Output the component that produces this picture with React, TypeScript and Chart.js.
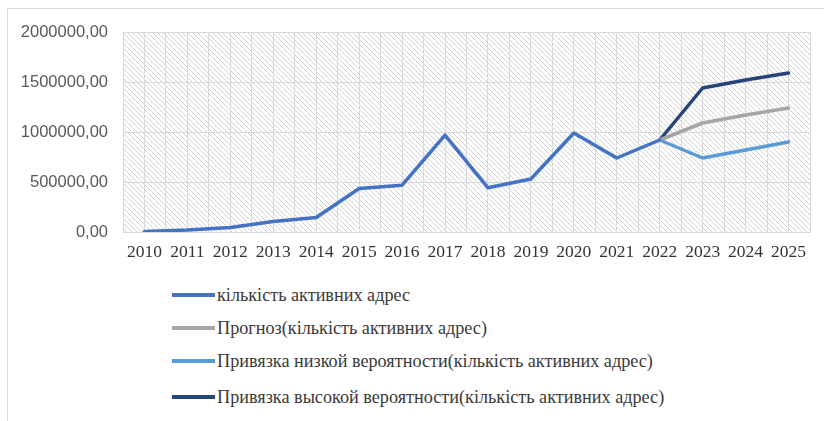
import React, { useEffect, useRef } from "react";
import { Chart, registerables } from "chart.js";

Chart.register(...registerables);

const years = [2010, 2011, 2012, 2013, 2014, 2015, 2016, 2017, 2018, 2019, 2020, 2021, 2022, 2023, 2024, 2025];
const activeAddresses = [5000, 20000, 45000, 105000, 145000, 435000, 468000, 968000, 442000, 530000, 990000, 740000, 920000, null, null, null];
const forecastValues = [null, null, null, null, null, null, null, null, null, null, null, null, 920000, 1090000, 1170000, 1240000];
const lowBoundValues = [null, null, null, null, null, null, null, null, null, null, null, null, 920000, 740000, 820000, 900000];
const highBoundValues = [null, null, null, null, null, null, null, null, null, null, null, null, 920000, 1440000, 1520000, 1590000];
const seriesNames = [
  "кількість активних адрес",
  "Прогноз(кількість активних адрес)",
  "Привязка низкой вероятности(кількість активних адрес)",
  "Привязка высокой вероятности(кількість активних адрес)",
];
const seriesColors = ["#4472c4", "#a5a5a5", "#5b9bd5", "#264478"];
const yMin = 0;
const yMax = 2000000;
const yStep = 500000;

const seriesValues = [activeAddresses, forecastValues, lowBoundValues, highBoundValues];

const hatchPlugin = {
  id: "hatchBg",
  beforeDraw(chart: any) {
    const { ctx, chartArea } = chart;
    if (!chartArea) return;
    const tile = document.createElement("canvas");
    const s = 5;
    tile.width = s;
    tile.height = s;
    const t = tile.getContext("2d")!;
    t.fillStyle = "#ffffff";
    t.fillRect(0, 0, s, s);
    t.strokeStyle = "#d2d2d2";
    t.lineWidth = 1;
    t.beginPath();
    t.moveTo(-1, -1);
    t.lineTo(s + 1, s + 1);
    t.moveTo(-1, s - 1);
    t.lineTo(1, s + 1);
    t.moveTo(s - 1, -1);
    t.lineTo(s + 1, 1);
    t.stroke();
    const pattern = ctx.createPattern(tile, "repeat");
    ctx.save();
    ctx.fillStyle = pattern;
    ctx.fillRect(chartArea.left, chartArea.top, chartArea.right - chartArea.left, chartArea.bottom - chartArea.top);
    ctx.restore();
  },
};

export default function App() {
  const canvasRef = useRef<HTMLCanvasElement | null>(null);

  useEffect(() => {
    if (!canvasRef.current) return;
    const chart = new Chart(canvasRef.current, {
      type: "line",
      data: {
        datasets: seriesValues.map((vals, i) => ({
          label: seriesNames[i],
          data: years.map((y, j) => ({ x: y, y: vals[j] })),
          borderColor: seriesColors[i],
          backgroundColor: seriesColors[i],
          borderWidth: 3.5,
          pointRadius: 0,
          tension: 0,
          spanGaps: false,
          borderJoinStyle: "round" as const,
          borderCapStyle: "round" as const,
        })),
      },
      options: {
        animation: false,
        responsive: false,
        maintainAspectRatio: false,
        layout: { padding: { left: 0, right: 14, top: 32, bottom: 0 } },
        plugins: {
          legend: { display: false },
          tooltip: { enabled: false },
        },
        scales: {
          x: {
            type: "linear",
            min: years[0] - 0.5,
            max: years[years.length - 1] + 0.5,
            afterFit: (s: any) => {
              s.height = 48;
            },
            afterBuildTicks: (s: any) => {
              const t: any[] = [];
              for (let v = years[0] - 0.5; v <= years[years.length - 1] + 0.5; v += 0.5) t.push({ value: v });
              s.ticks = t;
            },
            ticks: {
              autoSkip: false,
              maxRotation: 0,
              padding: 10,
              color: "#333333",
              font: { family: "'Liberation Serif'", size: 17.5 },
              callback: (v: any) => (Number.isInteger(v) ? String(v) : ""),
            },
            grid: { color: "#d9d9d9", lineWidth: 1, drawTicks: false },
            border: { display: true, color: "#d9d9d9" },
          },
          y: {
            min: yMin,
            max: yMax,
            afterFit: (s: any) => {
              s.width = 123;
            },
            ticks: {
              stepSize: yStep,
              padding: 15,
              color: "#595959",
              font: { family: "'Liberation Sans'", size: 16.5 },
              callback: (v: any) => Number(v).toFixed(2).replace(".", ","),
            },
            grid: { color: "#d9d9d9", lineWidth: 1, drawTicks: false },
            border: { display: false },
          },
        },
      },
      plugins: [hatchPlugin],
    });
    return () => chart.destroy();
  }, []);

  const legendTops = [295, 328, 361, 397];

  return (
    <div style={{ position: "fixed", left: 0, top: 0, width: 824, height: 421, background: "#ffffff", overflow: "hidden" }}>
      <div
        style={{
          position: "absolute",
          left: 7,
          top: 8,
          width: 830,
          height: 430,
          borderLeft: "1px solid #d9d9d9",
          borderTop: "1px solid #d9d9d9",
          boxSizing: "border-box",
        }}
      />
      <canvas ref={canvasRef} width={824} height={280} style={{ position: "absolute", left: 0, top: 0, width: 824, height: 280 }} />
      {seriesNames.map((name, i) => (
        <div
          key={name}
          style={{
            position: "absolute",
            left: 172,
            top: legendTops[i] - 12,
            height: 24,
            display: "flex",
            alignItems: "center",
            whiteSpace: "nowrap",
            fontFamily: "'Liberation Serif'",
            fontSize: 18.2,
            color: "#3a3a3a",
          }}
        >
          <span style={{ display: "inline-block", width: 43, height: 3.5, background: seriesColors[i], marginRight: 2 }} />
          <span>{name}</span>
        </div>
      ))}
    </div>
  );
}
